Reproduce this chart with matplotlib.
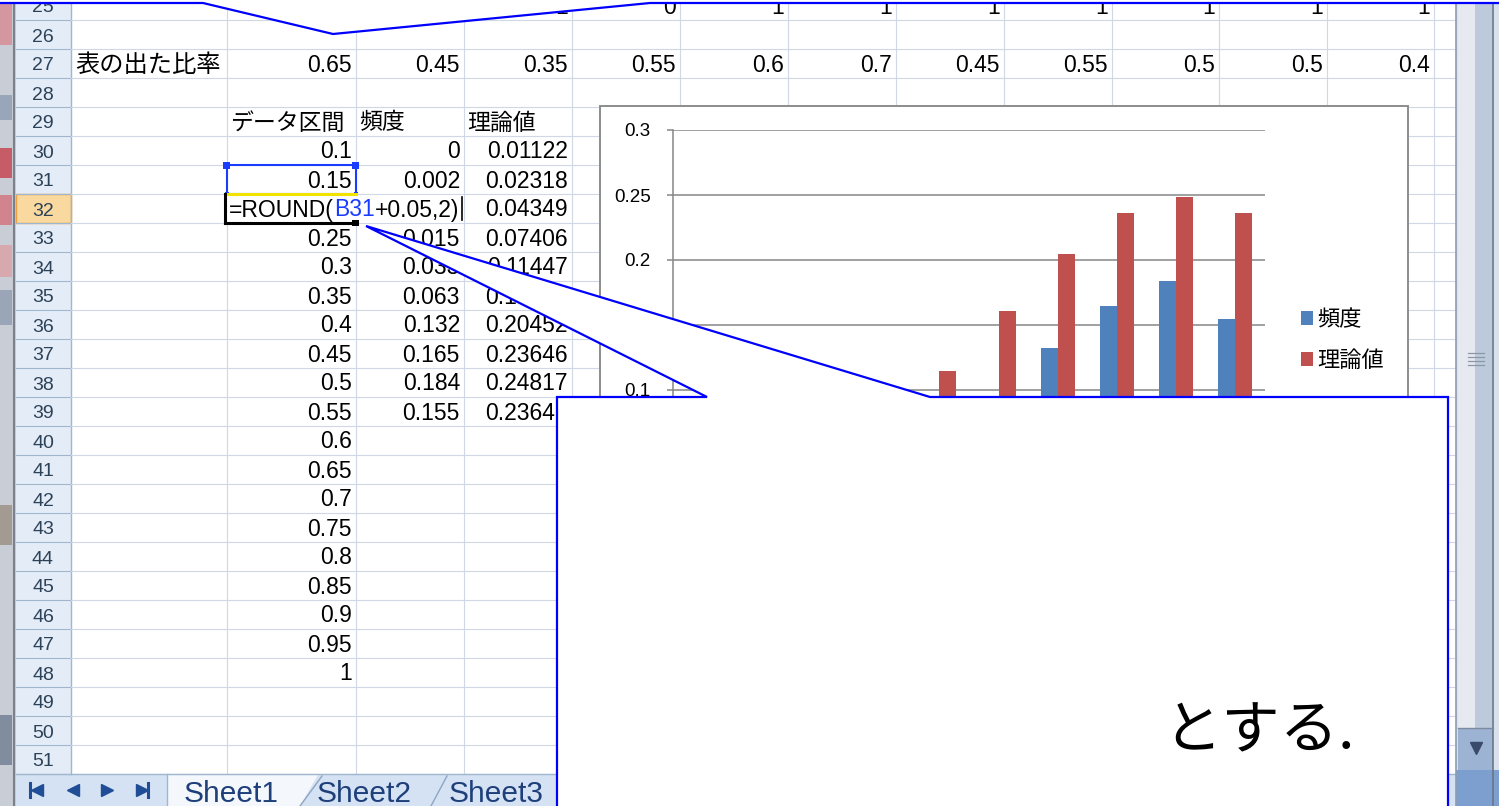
import matplotlib
matplotlib.use("Agg")
import matplotlib.pyplot as plt
from matplotlib.patches import Rectangle, Polygon
import numpy as np

W, H = 1499, 806

# --- data ---
row25_vals = ["1", "0", "1", "1", "1", "1", "1", "1", "1"]  # cols D..L, mostly hidden
ratio_label = "表の出た比率"
ratio_vals = [0.65, 0.45, 0.35, 0.55, 0.6, 0.7, 0.45, 0.55, 0.5, 0.5, 0.4]  # cols B..L
table_headers = ["データ区間", "頻度", "理論値"]
intervals = ["0.1", "0.15", "0.2", "0.25", "0.3", "0.35", "0.4", "0.45", "0.5",
             "0.55", "0.6", "0.65", "0.7", "0.75", "0.8", "0.85", "0.9", "0.95", "1"]
freq = [0, 0.002, 0.006, 0.015, 0.033, 0.063, 0.132, 0.165, 0.184, 0.155]
theory = [0.01122, 0.02318, 0.04349, 0.07406, 0.11447, 0.16067, 0.20452, 0.23646, 0.24817, 0.23646]
formula_parts = ["=ROUND(", "B31", "+0.05,2)"]
y_ticks = [0, 0.05, 0.1, 0.15, 0.2, 0.25, 0.3]
y_ticklabels = ["0", "0.05", "0.1", "0.15", "0.2", "0.25", "0.3"]
sheet_tabs = ["Sheet1", "Sheet2", "Sheet3"]
note_text = "とする."

# --- layout (pixels) ---
col_edges = [71, 227, 356, 464, 572, 680, 788, 896, 1004, 1112, 1219, 1327, 1434, 1456]
RH = 29.0
first_row, last_row = 25, 51
edit_row = 32

LAT = ["Liberation Sans", "Noto Sans CJK JP"]
JP = ["Noto Sans CJK JP", "DejaVu Sans"]


def row_top(k):
    return 20 + (k - 26) * RH


def row_base(k):
    return row_top(k) + RH / 2 + 8


fig = plt.figure(figsize=(W / 100, H / 100), dpi=100)
bg = fig.add_axes([0, 0, 1, 1])
bg.set_xlim(0, W)
bg.set_ylim(H, 0)
bg.axis("off")

# left strip (blurred thumbnails)
bg.add_patch(Rectangle((0, 0), 16, H, fc="#c9cdd5", ec="none"))
for y0, h, c in [(0, 45, "#d88a92"), (95, 25, "#8d9db3"), (148, 30, "#c5404a"),
                 (195, 30, "#d4727c"), (245, 32, "#dba0a6"), (290, 35, "#8f9db0"),
                 (505, 40, "#9a8f80"), (715, 50, "#6f7d92")]:
    bg.add_patch(Rectangle((0, y0), 12, h, fc=c, ec="none", alpha=0.8))
bg.plot([14, 14], [0, H], color="#7b808a", lw=1.5)

# row header
bg.add_patch(Rectangle((16, 0), 55, row_top(last_row + 1), fc="#e4ecf7", ec="none"))
bg.add_patch(Rectangle((16, row_top(edit_row)), 55, RH, fc="#f9d99f", ec="#f0a040", lw=1))
for k in range(first_row, last_row + 1):
    bg.plot([16, 71], [row_top(k + 1)] * 2, color="#9eb6ce", lw=0.8)
    bg.text(43, row_base(k) - 1, str(k), ha="center", va="baseline",
            fontsize=14, family=LAT, color="#2c4258")
bg.plot([71, 71], [0, row_top(last_row + 1)], color="#9eb6ce", lw=1)

# cell grid
for k in range(first_row, last_row + 1):
    bg.plot([71, 1456], [row_top(k + 1)] * 2, color="#d0d7e5", lw=0.8)
for x in col_edges[1:-1]:
    bg.plot([x, x], [0, row_top(last_row + 1)], color="#d0d7e5", lw=0.8)

# cell text
for i, v in enumerate(row25_vals):
    bg.text(col_edges[4 + i] - 4, row_base(25) + 1, v, ha="right", va="baseline",
            fontsize=16.5, family=LAT)
bg.text(75, row_base(27), ratio_label, ha="left", va="baseline", fontsize=17.5, family=JP)
for i, v in enumerate(ratio_vals):
    bg.text(col_edges[2 + i] - 4, row_base(27), f"{v:g}", ha="right", va="baseline",
            fontsize=16.5, family=LAT)
for i, t in enumerate(table_headers):
    bg.text(col_edges[1 + i] + 3, row_base(29), t, ha="left", va="baseline",
            fontsize=16.5, family=JP)
for i, t in enumerate(intervals):
    k = 30 + i
    if k == edit_row:
        continue
    bg.text(col_edges[2] - 4, row_base(k), t, ha="right", va="baseline",
            fontsize=16.5, family=LAT)
for i, (f, t) in enumerate(zip(freq, theory)):
    k = 30 + i
    if k != edit_row:
        bg.text(col_edges[3] - 4, row_base(k), f"{f:g}", ha="right", va="baseline",
                fontsize=16.5, family=LAT)
    bg.text(col_edges[4] - 4, row_base(k), f"{t:g}", ha="right", va="baseline",
            fontsize=16.5, family=LAT)

# reference box around B31
t31 = row_top(31)
bg.add_patch(Rectangle((227, t31), 129, RH, fc="none", ec="#1a3cff", lw=1.5, zorder=4))
for cx, cy, s in [(227, t31, 7), (356, t31, 7), (227, t31 + RH, 4), (356, t31 + RH, 4)]:
    bg.add_patch(Rectangle((cx - s / 2, cy - s / 2), s, s, fc="#1a3cff", ec="none", zorder=5))

# cell being edited (B32)
t32 = row_top(edit_row)
bg.add_patch(Rectangle((226, t32 + 1), 237, RH - 1.5, fc="white", ec="none", zorder=4))
bg.plot([225, 356], [t32, t32], color="#f2e200", lw=2.2, zorder=5)
bg.plot([225, 225], [t32, t32 + RH], color="black", lw=2.2, zorder=5)
bg.plot([225, 356], [t32 + RH, t32 + RH], color="black", lw=2.2, zorder=5)
bg.add_patch(Rectangle((352, t32 + RH - 3), 7, 6, fc="black", ec="none", zorder=6))
txt = bg.text(229, row_base(edit_row), formula_parts[0], ha="left", va="baseline",
              fontsize=16.5, family=LAT, zorder=6)
txt = bg.annotate(formula_parts[1], xy=(1, 0), xycoords=txt, ha="left", va="bottom",
                  fontsize=16.5, family=LAT, color="#1a3cff", zorder=6)
txt = bg.annotate(formula_parts[2], xy=(1, 0), xycoords=txt, ha="left", va="bottom",
                  fontsize=16.5, family=LAT, zorder=6)
bg.plot([462, 462], [t32 + 3, t32 + RH - 3], color="black", lw=1.2, zorder=6)

# chart area frame
bg.add_patch(Rectangle((600, 106), 808, 500, fc="white", ec="#8c8c8c", lw=1.4, zorder=7))

# sheet tab bar
tb = row_top(last_row + 1)
bg.add_patch(Rectangle((16, tb), 1440, H - tb, fc="#d5e2f3", ec="none"))
bg.plot([16, 1456], [tb, tb], color="#9eb6ce", lw=1)
bg.add_patch(Polygon([(167, H), (167, tb + 1), (318, tb + 1), (300, H)],
                     fc="#f4f7fc", ec="none"))
bg.plot([167, 167], [tb, H], color="#9eb6ce", lw=1)
for x0, x1 in [(300, 322), (431, 447)]:
    bg.plot([x0, x1], [H, tb + 2], color="#8da5c5", lw=1)
nav = "#1f4e96"
bg.plot([30, 30], [783, 797], color=nav, lw=2.2)
bg.plot([37, 73], [790, 790], ls="none", marker="<", ms=9, color=nav)
bg.plot([107, 142], [790, 790], ls="none", marker=">", ms=9, color=nav)
bg.plot([148, 148], [783, 797], color=nav, lw=2.2)
for x, name in zip([184, 317, 449], sheet_tabs):
    bg.text(x, 802, name, ha="left", va="baseline", fontsize=21.5, family=LAT,
            color="#1e3f7a")

# vertical scrollbar
bg.add_patch(Rectangle((1456, 0), 43, H, fc="#d9e1ec", ec="none"))
bg.add_patch(Rectangle((1458, 0), 17, 728, fc="#e6eaf0", ec="none"))
bg.add_patch(Rectangle((1475, 0), 17, 728, fc="#bccadb", ec="none"))
bg.plot([1456, 1456], [0, H], color="#8e9bb0", lw=1.2)
bg.plot([1493, 1493], [0, H], color="#6a7689", lw=1.2)
bg.plot([1458, 1493], [728, 728], color="#7d8aa0", lw=1)
bg.add_patch(Rectangle((1458, 729), 35, 41, fc="#9cb3d3", ec="none"))
bg.plot([1476], [748], marker="v", ms=9, color="#3a4a6a")
bg.add_patch(Rectangle((1456, 770), 43, H - 770, fc="#7c9fd0", ec="none"))
for gy in [353, 357, 361, 365]:
    bg.plot([1468, 1484], [gy, gy], color="#8c96a6", lw=0.9)

# --- embedded Excel chart ---
cax = fig.add_axes([673 / W, 1 - 520 / H, 592 / W, 390 / H], zorder=2)
cax.patch.set_alpha(0)
x = np.arange(len(freq))
bw = 0.286
cax.bar(x - bw / 2, freq, bw, color="#4f81bd", label=table_headers[1], zorder=3)
cax.bar(x + bw / 2, theory, bw, color="#c0504d", label=table_headers[2], zorder=3)
cax.set_xlim(-0.5, len(freq) - 0.5)
cax.set_ylim(0, 0.3)
cax.set_yticks(y_ticks)
cax.set_yticklabels(y_ticklabels, family=LAT, fontsize=13.5)
cax.set_xticks([])
cax.yaxis.grid(True, color="#868686", lw=1.1)
cax.set_axisbelow(True)
for s in ["top", "right", "bottom"]:
    cax.spines[s].set_visible(False)
cax.spines["left"].set_color("#868686")
cax.spines["left"].set_linewidth(1.1)
cax.tick_params(axis="y", direction="out", length=4, width=1.1, color="#868686", pad=12)
cax.legend(loc="upper left", bbox_to_anchor=(1301 / W, 1 - 308 / H),
           bbox_transform=fig.transFigure, frameon=False, borderpad=0,
           borderaxespad=0, prop={"family": JP, "size": 16},
           handlelength=0.55, handleheight=0.55, handletextpad=0.2,
           labelspacing=0.8)

# --- callout shapes on top ---
ov = fig.add_axes([0, 0, 1, 1], zorder=3)
ov.set_xlim(0, W)
ov.set_ylim(H, 0)
ov.axis("off")
ov.patch.set_alpha(0)
ov.add_patch(Polygon([(-5, -30), (-5, 3), (203, 3), (333, 34), (650, 3), (1505, 3), (1505, -30)],
                     closed=True, fc="white", ec="#0000ff", lw=1.6))
ov.add_patch(Polygon([(557, 830), (557, 397), (707, 397), (366, 226), (930, 397),
                      (1448, 397), (1448, 830)],
                     closed=True, fc="white", ec="#0000ff", lw=1.6))
ov.text(1163, 748, note_text, ha="left", va="baseline", fontsize=42, family=JP)

fig.savefig("out.png", dpi=100)
